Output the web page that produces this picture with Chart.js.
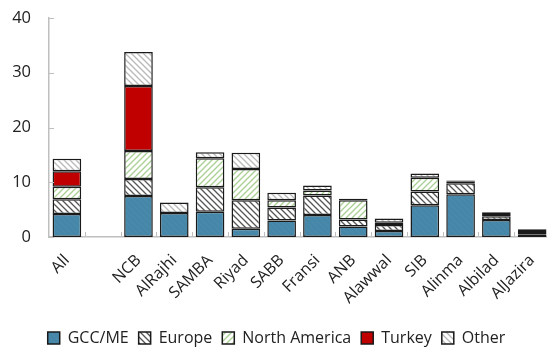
<!DOCTYPE html>
<html>
<head>
<meta charset="utf-8">
<script src="https://cdn.jsdelivr.net/npm/chart.js@4"></script>
<style>
  html, body { margin: 0; padding: 0; background: #fff; overflow: hidden; }
  #wrap { width: 560px; height: 348px; }
</style>
</head>
<body>
<div id="wrap"><canvas id="chart" width="560" height="348"></canvas></div>
<script>
const categories = ["All", "", "NCB", "AlRajhi", "SAMBA", "Riyad", "SABB", "Fransi", "ANB", "Alawwal", "SIB", "Alinma", "Albilad", "AlJazira"];
const gccMe =        [4.2, null, 7.5, 4.4, 4.6, 1.5, 3.0, 4.0, 1.9, 1.1, 5.8, 7.8, 3.1, 0.5];
const europe =       [2.7, null, 3.1, 0.0, 4.5, 5.2, 2.4, 3.6, 1.3, 1.1, 2.5, 2.0, 0.7, 0.4];
const northAmerica = [2.3, null, 5.1, 0.0, 5.3, 5.7, 1.3, 0.9, 3.5, 0.4, 2.5, 0.0, 0.4, 0.2];
const turkey =       [2.8, null, 11.9, 0.0, 0.0, 0.0, 0.0, 0.0, 0.0, 0.0, 0.0, 0.3, 0.0, 0.0];
const other =        [2.3, null, 6.2, 1.9, 1.1, 3.0, 1.4, 0.9, 0.3, 0.8, 0.8, 0.2, 0.3, 0.3];
const yTicks = [0, 10, 20, 30, 40];

function hatch(bg, line, dir) {
    const size = 6;
    const c = document.createElement("canvas");
    c.width = size;
    c.height = size;
    const g = c.getContext("2d");
    g.fillStyle = bg;
    g.fillRect(0, 0, size, size);
    g.strokeStyle = line;
    g.lineWidth = 1.3;
    g.beginPath();
    if (dir === "\\") {
        g.moveTo(-1, -1); g.lineTo(size + 1, size + 1);
        g.moveTo(-1, size - 1); g.lineTo(1, size + 1);
        g.moveTo(size - 1, -1); g.lineTo(size + 1, 1);
    } else {
        g.moveTo(-1, size + 1); g.lineTo(size + 1, -1);
        g.moveTo(-1, 1); g.lineTo(1, -1);
        g.moveTo(size - 1, size + 1); g.lineTo(size + 1, size - 1);
    }
    g.stroke();
    return g.createPattern(c, "repeat");
}

const fills = {
    gcc: hatch("#4686a8", "#4a8aab", "\\"),
    europe: hatch("#ffffff", "#555555", "\\"),
    na: hatch("#ffffff", "#a9cf93", "/"),
    turkey: "#c00000",
    other: hatch("#ffffff", "#b8b8b8", "\\")
};

function series(label, data, fill) {
    return {
        label,
        data,
        backgroundColor: fill,
        borderColor: "#1a1a1a",
        borderWidth: 1.5,
        borderSkipped: false,
        barPercentage: 0.8,
        categoryPercentage: 1
    };
}

// small inward tick marks, like the original spreadsheet chart
const innerTicks = {
    id: "innerTicks",
    afterDatasetsDraw(chart) {
        const { ctx, scales: { x, y } } = chart;
        ctx.save();
        ctx.strokeStyle = "#bfbfbf";
        ctx.lineWidth = 1;
        ctx.beginPath();
        for (let i = 1; i < categories.length; i++) {
            const px = Math.round((x.getPixelForValue(i - 1) + x.getPixelForValue(i)) / 2) + 0.5;
            ctx.moveTo(px, y.bottom);
            ctx.lineTo(px, y.bottom - 5);
        }
        yTicks.forEach((v) => {
            const py = Math.round(y.getPixelForValue(v)) + 0.5;
            ctx.moveTo(x.left, py);
            ctx.lineTo(x.left + 5, py);
        });
        ctx.stroke();
        ctx.restore();
    }
};

const font = "'Open Sans', 'Noto Sans', sans-serif";

new Chart(document.getElementById("chart"), {
    type: "bar",
    data: {
        labels: categories,
        datasets: [
            series("GCC/ME", gccMe, fills.gcc),
            series("Europe", europe, fills.europe),
            series("North America", northAmerica, fills.na),
            series("Turkey", turkey, fills.turkey),
            series("Other", other, fills.other)
        ]
    },
    options: {
        responsive: false,
        animation: false,
        layout: {
            padding: { top: 18, right: 7, left: 0, bottom: -8 }
        },
        plugins: {
            legend: {
                position: "bottom",
                labels: {
                    color: "#222",
                    font: { family: font, size: 16 },
                    boxWidth: 12,
                    boxHeight: 12,
                    padding: 10,
                    useBorderRadius: false
                }
            },
            tooltip: { enabled: false }
        },
        scales: {
            x: {
                stacked: true,
                grid: { display: false, drawTicks: false },
                border: { color: "#bfbfbf", width: 1.5 },
                afterFit: (scale) => { scale.height = 83; },
                ticks: {
                    color: "#222",
                    font: { family: font, size: 16 },
                    minRotation: 45,
                    maxRotation: 45,
                    autoSkip: false,
                    padding: 14
                }
            },
            y: {
                stacked: true,
                min: 0,
                max: 40,
                grid: { display: false, drawTicks: false },
                border: { color: "#bfbfbf", width: 1.5 },
                afterFit: (scale) => {
                    scale.width = 49;
                    scale.paddingTop = 0;
                    scale.paddingBottom = 0;
                },
                afterBuildTicks: (scale) => {
                    scale.ticks = yTicks.map((v) => ({ value: v }));
                },
                ticks: {
                    color: "#222",
                    font: { family: font, size: 16.5 },
                    padding: 18
                }
            }
        }
    },
    plugins: [innerTicks]
});
</script>
</body>
</html>
